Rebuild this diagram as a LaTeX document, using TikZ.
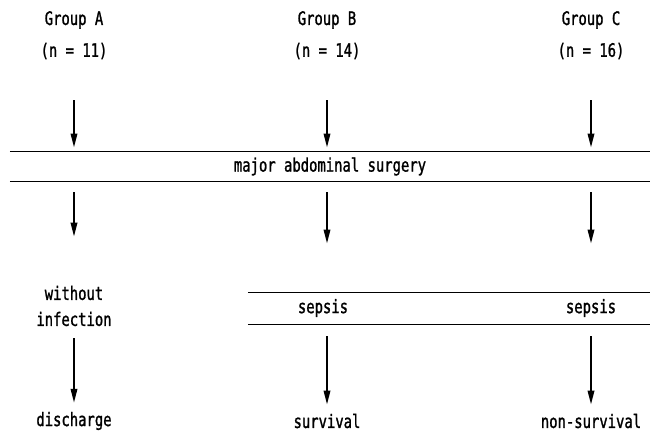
\documentclass[tikz,border=0pt]{standalone}
\usepackage{fontspec}
\newfontfamily\chartfont[FakeStretch=0.75,FakeBold=1.2]{DejaVu Sans Mono}
\usetikzlibrary{arrows.meta}

\begin{document}
\begin{tikzpicture}[x=1pt,y=-1pt,
    lbl/.style={font=\chartfont\fontsize{18.5}{26}\selectfont,inner sep=0pt,align=center},
    flow/.style={line width=1.9pt,-{Triangle[width=6.5pt,length=14pt]}},
    rule/.style={line width=1.5pt}]
      \useasboundingbox (0,0) rectangle (650,431);
      \draw
        (74,20) node[lbl] (gA){Group A}
        (327,20) node[lbl] (gB){Group B}
        (591,20) node[lbl] (gC){Group C}
        (74,51) node[lbl] (nA){(n = 11)}
        (327,51) node[lbl] (nB){(n = 14)}
        (591,51) node[lbl] (nC){(n = 16)};
      \node[lbl,minimum width=640pt,minimum height=29.5pt] (surg) at (330,166.5) {major abdominal surgery};
      \draw[rule] (surg.north west) -- (surg.north east);
      \draw[rule] (surg.south west) -- (surg.south east);
      \draw
        (74,306) node[lbl] (woi){without\\infection}
        (323,308) node[lbl] (sB){sepsis}
        (591,308) node[lbl] (sC){sepsis}
        (74,421) node[lbl] (dis){discharge}
        (327,421) node[lbl] (surv){survival}
        (591,421) node[lbl] (nsurv){non-survival};
      \node[minimum width=402pt,minimum height=31.5pt,inner sep=0pt] (sband) at (449,308.5) {};
      \draw[rule] (sband.north west) -- (sband.north east);
      \draw[rule] (sband.south west) -- (sband.south east);
      \begin{scope}[flow]
        \draw[shorten <=41pt,shorten >=4pt] (nA) -- (nA |- surg.north);
        \draw[shorten <=41pt,shorten >=4pt] (nB) -- (nB |- surg.north);
        \draw[shorten <=41pt,shorten >=4pt] (nC) -- (nC |- surg.north);
        \draw[shorten <=11pt,shorten >=49pt] (surg.south -| woi) -- (woi.north);
        \draw[shorten <=11pt,shorten >=49pt] (surg.south -| nB) -- (nB |- sband.north);
        \draw[shorten <=11pt,shorten >=49pt] (surg.south -| nC) -- (nC |- sband.north);
        \draw[shorten <=12pt,shorten >=9pt] (woi.south) -- (dis.north);
        \draw[shorten <=12pt,shorten >=9pt] (sband.south -| surv) -- (surv.north);
        \draw[shorten <=12pt,shorten >=9pt] (sband.south -| nsurv) -- (nsurv.north);
      \end{scope}
\end{tikzpicture}
\end{document}
